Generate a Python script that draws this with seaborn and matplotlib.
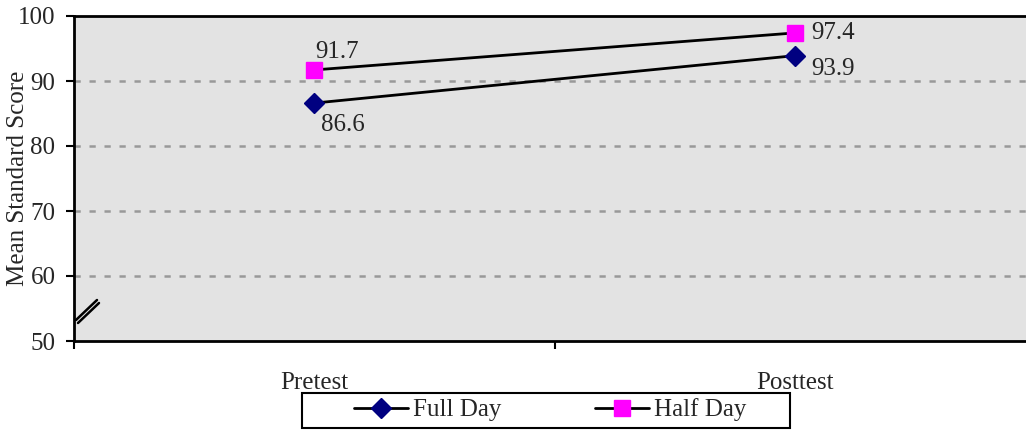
import matplotlib
matplotlib.use("Agg")
import matplotlib.pyplot as plt
import seaborn as sns
import pandas as pd
from matplotlib.lines import Line2D
from matplotlib.patches import Rectangle

tests = ["Pretest", "Posttest"]
full_day = [86.6, 93.9]
half_day = [91.7, 97.4]
groups = ["Full Day", "Half Day"]
colors = {"Full Day": "#000080", "Half Day": "#ff00ff"}
markers = {"Full Day": "D", "Half Day": "s"}
msize = {"Full Day": 10, "Half Day": 12}

df = pd.DataFrame({
    "Test": tests * 2,
    "Score": full_day + half_day,
    "Group": [groups[0]] * 2 + [groups[1]] * 2,
})

sns.set_theme(style="white")
plt.rcParams["font.family"] = ["Liberation Serif", "DejaVu Serif"]
FS = 18
plt.rcParams["font.size"] = FS

FW, FH = 1026, 430
fig = plt.figure(figsize=(FW / 100, FH / 100), dpi=100)
ax = fig.add_axes([73.5/FW, 1-341/FH, 962/FW, 325/FH])
ax.set_facecolor("#e3e3e3")

x_pos = {t: i for i, t in enumerate(tests)}
df["x"] = df["Test"].map(x_pos)

for g in groups:
    sub = df[df["Group"] == g]
    sns.lineplot(data=sub, x="x", y="Score", ax=ax, color="black", lw=2,
                 legend=False, zorder=2)
    ax.plot(sub["x"], sub["Score"], linestyle="none", marker=markers[g],
            color=colors[g], markersize=msize[g], zorder=3)

# legend (frameless) + frame drawn as rectangle
handles = [Line2D([], [], color="black", lw=2, marker=markers[g],
                  markerfacecolor=colors[g], markeredgecolor=colors[g],
                  markersize=msize[g]) for g in groups]
leg = fig.legend(handles, groups, loc="center", bbox_to_anchor=(550/FW, 1-410/FH),
                 ncol=2, frameon=False, columnspacing=3.75, handlelength=2.15,
                 handletextpad=0.2, borderpad=0.0, borderaxespad=0, fontsize=FS)
fig.patches.append(Rectangle((302/FW, 1-428/FH), 488/FW, 35/FH, transform=fig.transFigure,
                             fill=False, edgecolor="black", lw=1.5))

# value labels
ax.annotate(f"{half_day[0]}", (0, half_day[0]), xytext=(1, 5), textcoords="offset points",
            ha="left", va="bottom", fontsize=FS)
ax.annotate(f"{full_day[0]}", (0, full_day[0]), xytext=(5, -8), textcoords="offset points",
            ha="left", va="top", fontsize=FS)
ax.annotate(f"{half_day[1]}", (1, half_day[1]), xytext=(12, 0), textcoords="offset points",
            ha="left", va="center", fontsize=FS)
ax.annotate(f"{full_day[1]}", (1, full_day[1]), xytext=(12, -2), textcoords="offset points",
            ha="left", va="top", fontsize=FS)

ax.set_xlim(-0.5, 1.5)
ax.set_ylim(50, 100)
ax.set_yticks([50, 60, 70, 80, 90, 100])
ax.set_xticks([-0.5, 0.5, 1.5])
ax.set_xticklabels([])
for i, t in enumerate(tests):
    ax.text(i, -0.095, t, transform=ax.get_xaxis_transform(), ha="center", va="top", fontsize=FS)

for y in [60, 70, 80, 90]:
    ax.axhline(y, color="#999999", lw=1.8, ls=(0, (2.5, 3.5)), zorder=1)

ax.set_xlabel("")
ax.set_ylabel("Mean Standard Score", fontsize=FS)
ax.yaxis.set_label_coords((29 - 73.5) / 962, 0.5)
ax.tick_params(axis="both", direction="out", length=6, width=1.5, color="black",
               labelsize=FS, pad=1, bottom=True, left=True)
ax.tick_params(axis="y", pad=7)

for side in ["left", "bottom", "top"]:
    ax.spines[side].set_color("black")
    ax.spines[side].set_linewidth(2)
ax.spines["right"].set_visible(False)

# axis break marks
W = 962.0
H = 325.0
for (x0, y0, x1, y1) in [(2.5, 21, 23.5, 41), (4.5, 18, 25.5, 38)]:
    ax.plot([x0 / W, x1 / W], [y0 / H, y1 / H],
            transform=ax.transAxes, color="black", lw=1.8, clip_on=False)

fig.savefig("out.png", dpi=100)
